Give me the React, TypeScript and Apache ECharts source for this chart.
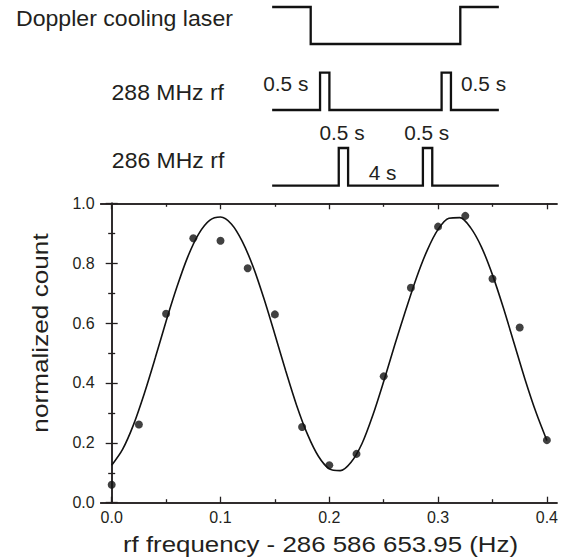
import React, { useEffect, useRef } from 'react';
import * as echarts from 'echarts';

// Measured points
const freqOffsets = [0, 0.025, 0.05, 0.075, 0.1, 0.125, 0.15, 0.175, 0.2, 0.225, 0.25, 0.275, 0.3, 0.325, 0.35, 0.375, 0.4];
const normalizedCounts = [0.06, 0.261, 0.631, 0.883, 0.875, 0.783, 0.629, 0.253, 0.125, 0.163, 0.422, 0.718, 0.922, 0.958, 0.748, 0.585, 0.209];

// Fitted curve
const fitFreqs = [0, 0.01, 0.02, 0.03, 0.04, 0.05, 0.06, 0.07, 0.08, 0.09, 0.1, 0.11, 0.12, 0.13, 0.14, 0.15, 0.16, 0.17, 0.18, 0.19, 0.2, 0.21, 0.22, 0.23, 0.24, 0.25, 0.26, 0.27, 0.28, 0.29, 0.3, 0.31, 0.32, 0.33, 0.34, 0.35, 0.36, 0.37, 0.38, 0.39, 0.4];
const fitCounts = [0.125, 0.178, 0.26, 0.365, 0.483, 0.606, 0.721, 0.822, 0.898, 0.943, 0.954, 0.931, 0.873, 0.788, 0.681, 0.562, 0.44, 0.325, 0.228, 0.155, 0.113, 0.107, 0.135, 0.197, 0.292, 0.405, 0.525, 0.64, 0.75, 0.843, 0.913, 0.95, 0.952, 0.918, 0.853, 0.761, 0.651, 0.531, 0.411, 0.302, 0.208];

const xMajorTicks = [0, 0.1, 0.2, 0.3, 0.4];
const xMinorTicks = [0.05, 0.15, 0.25, 0.35];

// Timing diagram (seconds)
const dopplerTimes = [0, 2, 2, 10, 10, 12];
const dopplerLevels = [1, 1, 0, 0, 1, 1];
const rf288Times = [0, 2.5, 2.5, 3, 3, 9, 9, 9.5, 9.5, 12];
const rf288Levels = [0, 0, 1, 1, 0, 0, 1, 1, 0, 0];
const rf286Times = [0, 3.5, 3.5, 4, 4, 8, 8, 8.5, 8.5, 12];
const rf286Levels = [0, 0, 1, 1, 0, 0, 1, 1, 0, 0];

const FONT = '"Liberation Sans", Arial, Helvetica, sans-serif';
const INK = '#231f20';

function zip(a: number[], b: number[]) {
  return a.map((v, i) => [v, b[i]]);
}

function txt(text: string, x: number, y: number, size: number, align: string, sx = 1, rot = 0) {
  return {
    type: 'text',
    x,
    y,
    scaleX: sx,
    rotation: rot,
    silent: true,
    style: {
      text,
      font: `${size}px ${FONT}`,
      fill: INK,
      align,
      verticalAlign: 'middle',
      textAlign: align,
      textVerticalAlign: 'middle',
    },
  };
}

export default function App() {
  const ref = useRef<HTMLDivElement>(null);
  useEffect(() => {
    if (!ref.current) return;
    const chart = echarts.init(ref.current, undefined, { renderer: 'svg' });
    const xMin = -0.0101;
    const xMax = 0.4093;
    const axisLine = { show: true, lineStyle: { color: INK, width: 1.5 } };
    const mkX = (position: 'top' | 'bottom', ticks: number[], len: number, labels: boolean) => ({
      type: 'value',
      gridIndex: 0,
      position,
      min: xMin,
      max: xMax,
      axisLine,
      splitLine: { show: false },
      axisTick: { show: true, inside: true, length: len, customValues: ticks, lineStyle: { color: INK, width: 1.3 } },
      axisLabel: labels
        ? { show: true, customValues: ticks, margin: 7, fontSize: 16, fontFamily: FONT, color: INK, formatter: (v: number) => v.toFixed(1) }
        : { show: false },
    });
    const mkY = (position: 'left' | 'right', labels: boolean) => ({
      type: 'value',
      gridIndex: 0,
      position,
      min: 0,
      max: 1,
      interval: 0.2,
      axisLine,
      splitLine: { show: false },
      axisTick: { show: true, inside: true, length: 6, lineStyle: { color: INK, width: 1.3 } },
      minorTick: { show: true, splitNumber: 2, length: 3.5, lineStyle: { color: INK, width: 1.3 } },
      minorSplitLine: { show: false },
      axisLabel: labels
        ? { show: true, margin: 6, fontSize: 16, fontFamily: FONT, color: INK, formatter: (v: number) => v.toFixed(1) }
        : { show: false },
    });
    const hiddenX = (g: number) => ({ type: 'value', gridIndex: g, min: 0, max: 12, show: false });
    const hiddenY = (g: number) => ({ type: 'value', gridIndex: g, min: 0, max: 1, show: false });
    const timingSeries = (g: number, t: number[], l: number[]) => ({
      type: 'line',
      xAxisIndex: g + 3,
      yAxisIndex: g + 1,
      data: zip(t, l),
      symbol: 'none',
      clip: false,
      lineStyle: { color: '#111', width: 2.3, join: 'miter', cap: 'square' },
      silent: true,
    });

    chart.setOption({
      animation: false,
      backgroundColor: '#fff',
      grid: [
        { left: 100.7, top: 203.3, width: 456.3, height: 299.4 },
        { left: 273.3, top: 7, width: 224.4, height: 37 },
        { left: 273.3, top: 72.7, width: 224.4, height: 37.3 },
        { left: 273.3, top: 148, width: 224.4, height: 37.7 },
      ],
      xAxis: [
        mkX('bottom', xMajorTicks, 6, true),
        mkX('bottom', xMinorTicks, 3.5, false),
        mkX('top', xMajorTicks, 6, false),
        mkX('top', xMinorTicks, 3.5, false),
        hiddenX(1),
        hiddenX(2),
        hiddenX(3),
      ],
      yAxis: [mkY('left', true), mkY('right', false), hiddenY(1), hiddenY(2), hiddenY(3)],
      series: [
        {
          type: 'line',
          xAxisIndex: 0,
          yAxisIndex: 0,
          data: zip(fitFreqs, fitCounts),
          smooth: 0.3,
          symbol: 'none',
          lineStyle: { color: '#111', width: 1.6 },
          silent: true,
        },
        {
          type: 'scatter',
          xAxisIndex: 0,
          yAxisIndex: 0,
          data: zip(freqOffsets, normalizedCounts),
          symbol: 'circle',
          symbolSize: 8,
          itemStyle: { color: '#111' },
          silent: true,
        },
        timingSeries(1, dopplerTimes, dopplerLevels),
        timingSeries(2, rf288Times, rf288Levels),
        timingSeries(3, rf286Times, rf286Levels),
      ],
      graphic: [
        txt('Doppler cooling laser', 16, 18.5, 22, 'left', 1.05),
        txt('288 MHz rf', 224, 92.3, 22, 'right', 1.045),
        txt('286 MHz rf', 224.3, 161, 22, 'right', 1.045),
        txt('0.5 s', 308.3, 84.5, 20, 'right', 1.04),
        txt('0.5 s', 461, 84.5, 20, 'left', 1.04),
        txt('0.5 s', 342, 133.3, 20, 'center', 1.04),
        txt('0.5 s', 426.7, 133.3, 20, 'center', 1.04),
        txt('4 s', 382.5, 173, 20, 'center', 1.04),
        txt('rf frequency - 286 586 653.95 (Hz)', 320.5, 544.5, 22, 'center', 1.175),
        txt('normalized count', 40, 333, 22, 'center', 1.19, Math.PI / 2),
      ],
    });
    return () => chart.dispose();
  }, []);
  return <div ref={ref} style={{ position: 'fixed', left: 0, top: 0, width: 565, height: 560, background: '#fff' }} />;
}
